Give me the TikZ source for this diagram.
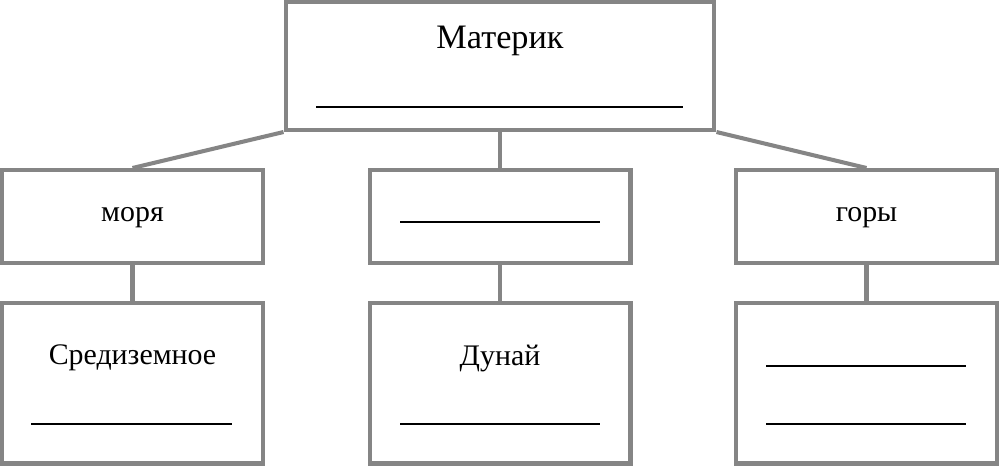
\documentclass[tikz,border=0pt]{standalone}
\usepackage{fontspec}
\setmainfont{Liberation Serif}
\usepackage{xcolor}
\definecolor{framegray}{HTML}{858585}

\begin{document}
\begin{tikzpicture}[x=0.02cm,y=-0.02cm]
    \tikzstyle{box}=[rectangle,draw=framegray,line width=2.3pt,minimum width=5.22cm]
    \tikzstyle{midbox}=[box,minimum height=1.86cm]
    \tikzstyle{lowbox}=[box,minimum height=3.22cm]
    \tikzstyle{word}=[font=\fontsize{17}{20}\selectfont,inner sep=0pt]
    \tikzstyle{title}=[word,font=\fontsize{19.5}{23}\selectfont]
    \tikzstyle{blank}=[black,line width=1pt]
    \tikzstyle{link}=[draw=framegray,line width=2.3pt]
    \useasboundingbox (0,0) rectangle (1000,467);
    % boxes
    \node[box,minimum width=8.58cm,minimum height=2.56cm] (continent) at (500,66) {};
    \node[midbox] (seas) at (132.5,216.5) {};
    \node[midbox] (rivers) at (500,216.5) {};
    \node[midbox] (mountains) at (866.5,216.5) {};
    \node[lowbox] (sea) at (132.5,383) {};
    \node[lowbox] (river) at (500,383) {};
    \node[lowbox] (mountain) at (866.5,383) {};
    % links
    \draw[link] (continent.south west) -- (seas.north);
    \draw[link] (continent.south) -- (rivers.north);
    \draw[link] (continent.south east) -- (mountains.north);
    \draw[link] (seas.south) -- (sea.north);
    \draw[link] (rivers.south) -- (river.north);
    \draw[link] (mountains.south) -- (mountain.north);
    % texts
    \node[title] (continenttext) at (500,41) {Материк};
    \node[word] (seastext) at (132.5,218) {моря};
    \node[word] (mountainstext) at (866.5,218) {горы};
    \node[word] (seatext) at (132.5,358) {Средиземное};
    \node[word] (rivertext) at (500,358) {Дунай};
    % blanks
    \draw[blank] (316,107) -- (683,107);
    \draw[blank] (400,222) -- (600,222);
    \draw[blank] (31,424) -- (232,424);
    \draw[blank] (400,424) -- (600,424);
    \draw[blank] (766,366) -- (966,366);
    \draw[blank] (766,424) -- (966,424);
\end{tikzpicture}
\end{document}
